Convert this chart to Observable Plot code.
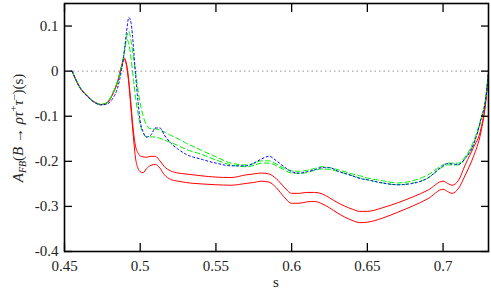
<!DOCTYPE html>
<html>
<head>
<meta charset="utf-8">
<script src="https://cdn.jsdelivr.net/npm/d3@7"></script>
<script src="https://cdn.jsdelivr.net/npm/@observablehq/plot@0.6"></script>
<style>
  html, body { margin: 0; padding: 0; background: #fff; }
  #chart { width: 491px; height: 291px; }
  #chart svg text { font-family: "Liberation Serif", "DejaVu Serif", serif !important; }
</style>
</head>
<body>
<div id="chart"></div>
<script>
// s values (shared grid)
const s = [0.455, 0.46, 0.465, 0.47, 0.474, 0.478, 0.482, 0.485, 0.4875, 0.4895, 0.491, 0.4925, 0.494, 0.4955, 0.497, 0.4985, 0.5, 0.502, 0.504, 0.507, 0.51, 0.513, 0.516, 0.52, 0.525, 0.53, 0.54, 0.55, 0.56, 0.57, 0.575, 0.58, 0.585, 0.59, 0.595, 0.6, 0.605, 0.61, 0.615, 0.62, 0.625, 0.63, 0.64, 0.645, 0.65, 0.66, 0.67, 0.68, 0.69, 0.7, 0.703, 0.706, 0.71, 0.715, 0.72, 0.725, 0.728, 0.73];

// red band, upper edge (solid)
const redUpper = [0, -0.035, -0.055, -0.069, -0.074, -0.070, -0.049, -0.024, 0.009, 0.029, 0.015, -0.022, -0.077, -0.133, -0.168, -0.181, -0.188, -0.190, -0.191, -0.189, -0.189, -0.199, -0.212, -0.221, -0.226, -0.228, -0.232, -0.235, -0.236, -0.230, -0.228, -0.226, -0.228, -0.239, -0.257, -0.271, -0.271, -0.269, -0.269, -0.272, -0.281, -0.291, -0.306, -0.311, -0.311, -0.303, -0.292, -0.279, -0.264, -0.244, -0.249, -0.253, -0.243, -0.205, -0.170, -0.128, -0.070, -0.003];
// red band, lower edge (solid)
const redLower = [0, -0.035, -0.055, -0.069, -0.074, -0.071, -0.050, -0.025, 0.008, 0.026, 0.011, -0.029, -0.088, -0.146, -0.195, -0.215, -0.223, -0.225, -0.217, -0.209, -0.207, -0.215, -0.230, -0.240, -0.244, -0.247, -0.250, -0.252, -0.253, -0.249, -0.247, -0.244, -0.246, -0.259, -0.279, -0.293, -0.293, -0.290, -0.289, -0.294, -0.303, -0.314, -0.331, -0.336, -0.335, -0.326, -0.313, -0.299, -0.283, -0.262, -0.267, -0.271, -0.261, -0.228, -0.190, -0.135, -0.075, -0.003];
// green band, upper edge (dashed)
const greenUpper = [0, -0.035, -0.055, -0.069, -0.074, -0.070, -0.048, -0.022, 0.007, 0.044, 0.075, 0.088, 0.066, 0.031, -0.004, -0.040, -0.071, -0.100, -0.119, -0.128, -0.128, -0.131, -0.135, -0.142, -0.150, -0.159, -0.175, -0.190, -0.204, -0.208, -0.205, -0.199, -0.199, -0.206, -0.215, -0.221, -0.222, -0.220, -0.216, -0.212, -0.214, -0.218, -0.228, -0.232, -0.237, -0.243, -0.248, -0.243, -0.230, -0.208, -0.204, -0.204, -0.204, -0.188, -0.157, -0.105, -0.062, -0.003];
// green band, lower edge (dashed)
const greenLower = [0, -0.035, -0.055, -0.069, -0.074, -0.070, -0.049, -0.023, 0.006, 0.040, 0.071, 0.060, 0.027, -0.018, -0.060, -0.093, -0.119, -0.137, -0.146, -0.146, -0.146, -0.149, -0.153, -0.158, -0.165, -0.173, -0.184, -0.197, -0.208, -0.212, -0.209, -0.204, -0.204, -0.210, -0.219, -0.226, -0.227, -0.225, -0.220, -0.217, -0.218, -0.222, -0.232, -0.237, -0.241, -0.248, -0.252, -0.248, -0.237, -0.212, -0.208, -0.208, -0.208, -0.192, -0.162, -0.110, -0.064, -0.003];
// blue central curve (dotted)
const blue = [0, -0.036, -0.056, -0.070, -0.075, -0.073, -0.060, -0.038, 0.000, 0.044, 0.088, 0.119, 0.106, 0.055, -0.011, -0.066, -0.111, -0.135, -0.146, -0.142, -0.126, -0.126, -0.142, -0.159, -0.173, -0.184, -0.195, -0.204, -0.210, -0.210, -0.204, -0.195, -0.189, -0.199, -0.212, -0.223, -0.226, -0.223, -0.219, -0.214, -0.214, -0.221, -0.232, -0.238, -0.241, -0.248, -0.252, -0.249, -0.237, -0.210, -0.205, -0.206, -0.207, -0.192, -0.164, -0.107, -0.065, -0.003];

const xTicks = [0.45, 0.5, 0.55, 0.6, 0.65, 0.7];
const yTicks = [-0.4, -0.3, -0.2, -0.1, 0, 0.1];
const zero = [0];

const rows = (vals) => s.map((x, i) => ({s: x, v: vals[i]}));
const font = "Liberation Serif";

const chart = Plot.plot({
  width: 491,
  height: 291,
  marginLeft: 64,
  marginRight: 3,
  marginTop: 3,
  marginBottom: 40,
  style: {fontSize: "15px", background: "white", color: "#000"},
  x: {domain: [0.45, 0.73], axis: null},
  y: {domain: [-0.4, 0.15], axis: null},
  marks: [
    Plot.ruleY(zero, {stroke: "#777", strokeWidth: 0.8, strokeDasharray: "1.5,3"}),
    Plot.line(rows(redUpper), {x: "s", y: "v", stroke: "#ff0000", strokeWidth: 1, curve: "monotone-x"}),
    Plot.line(rows(redLower), {x: "s", y: "v", stroke: "#ff0000", strokeWidth: 1, curve: "monotone-x"}),
    Plot.line(rows(greenUpper), {x: "s", y: "v", stroke: "#00ee00", strokeWidth: 1, strokeDasharray: "5,3", curve: "monotone-x"}),
    Plot.line(rows(greenLower), {x: "s", y: "v", stroke: "#00ee00", strokeWidth: 1, strokeDasharray: "5,3", curve: "monotone-x"}),
    Plot.line(rows(blue), {x: "s", y: "v", stroke: "#0000ff", strokeWidth: 1, strokeDasharray: "2,2.5", curve: "monotone-x"}),
    Plot.axisX(xTicks, {anchor: "bottom", tickSize: -8, text: null, label: null, strokeWidth: 1.3}),
    Plot.axisX(xTicks, {anchor: "top", tickSize: -8, text: null, label: null, strokeWidth: 1.3}),
    Plot.axisY(yTicks, {anchor: "left", tickSize: -8, text: null, label: null, strokeWidth: 1.3}),
    Plot.axisY(yTicks, {anchor: "right", tickSize: -8, text: null, label: null, strokeWidth: 1.3}),
    Plot.axisX(xTicks, {anchor: "bottom", tickSize: 0, tickPadding: 9, tickFormat: d => String(d), fontSize: 15, fontFamily: font, fill: "#222", label: null}),
    Plot.axisY(yTicks, {anchor: "left", tickSize: 0, tickPadding: 6, tickFormat: d => String(d), fontSize: 15, fontFamily: font, fill: "#222", label: null}),
    Plot.frame({stroke: "#000", strokeWidth: 1.6})
  ]
});

document.getElementById("chart").appendChild(chart);

// axis titles
const svg = d3.select(chart);
svg.append("text")
  .attr("x", 276).attr("y", 287)
  .attr("text-anchor", "middle")
  .attr("font-family", font).attr("font-size", 15).attr("fill", "#222")
  .text("s");

const yl = svg.append("text")
  .attr("transform", "translate(23,128) rotate(-90)")
  .attr("text-anchor", "middle")
  .attr("font-family", font).attr("font-size", 15).attr("fill", "#222");
yl.append("tspan").attr("font-style", "italic").text("A");
yl.append("tspan").attr("font-style", "italic").attr("font-size", 10).attr("dy", 3).text("FB");
yl.append("tspan").attr("dy", -3).text("(");
yl.append("tspan").attr("font-style", "italic").text("B");
yl.append("tspan").text(" → ");
yl.append("tspan").attr("font-style", "italic").text("ρτ");
yl.append("tspan").attr("font-size", 11).attr("dy", -6).text("+");
yl.append("tspan").attr("font-style", "italic").attr("dy", 6).text("τ");
yl.append("tspan").attr("font-size", 11).attr("dy", -6).text("–");
yl.append("tspan").attr("dy", 6).text(")(s)");
</script>
</body>
</html>
